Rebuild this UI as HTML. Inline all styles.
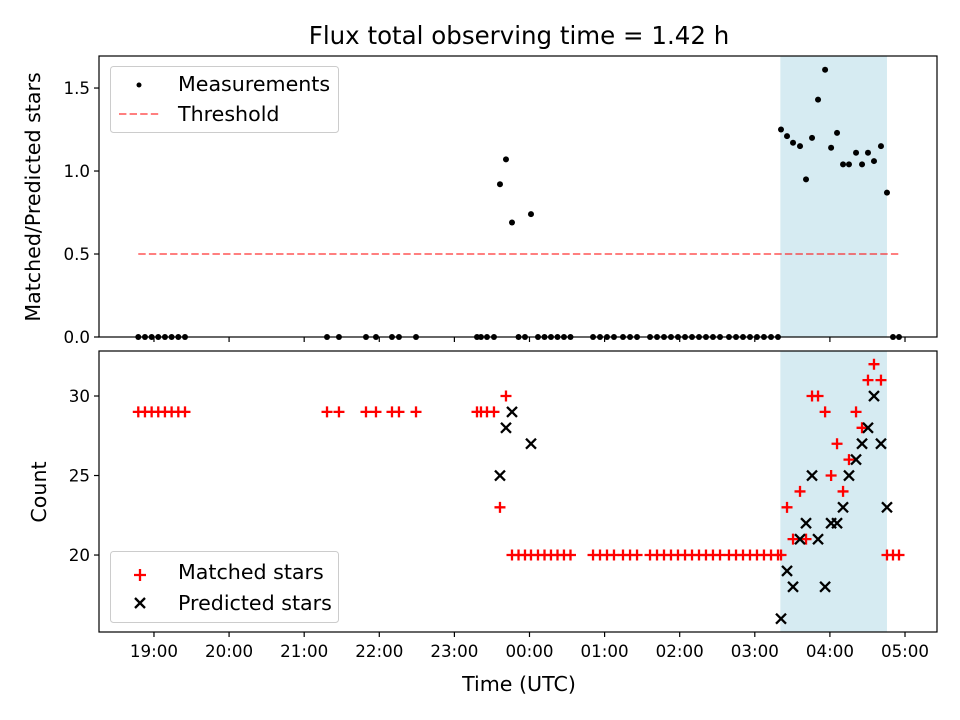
<!DOCTYPE html>
<html><head><meta charset="utf-8"><style>
body{margin:0;background:#fff}
svg{display:block;font-family:"DejaVu Sans","Liberation Sans",sans-serif}
</style></head><body>
<svg id="chart" width="960" height="720" viewBox="0 0 960 720"></svg>
<script>
// observation times (hours, >24 means after midnight)
const times = [18.791,18.880,18.969,19.057,19.146,19.235,19.324,19.413,
21.304,21.463,21.823,21.956,22.169,22.262,22.489,
23.301,23.354,23.434,23.527,
23.607,23.687,23.767,23.854,23.940,24.020,24.113,24.200,24.286,24.373,24.459,24.546,
24.846,24.939,25.032,25.125,25.245,25.339,25.432,
25.605,25.698,25.791,25.884,25.977,26.071,26.164,26.257,26.350,26.443,26.537,
26.656,26.750,26.843,26.936,27.029,27.122,27.216,27.309,
27.349,27.429,27.509,27.602,27.682,27.762,27.842,27.936,28.016,28.095,28.175,28.254,28.348,28.428,28.507,28.587,28.680,28.760,
28.840,28.920];
const matched = [29,29,29,29,29,29,29,29,
29,29,29,29,29,29,29,
29,29,29,29,
23,30,20,20,20,20,20,20,20,20,20,20,
20,20,20,20,20,20,20,
20,20,20,20,20,20,20,20,20,20,20,
20,20,20,20,20,20,20,20,
20,23,21,24,21,30,30,29,25,27,24,26,29,28,31,32,31,20,
20,20];
const predicted = [null,null,null,null,null,null,null,null,
null,null,null,null,null,null,null,
null,null,null,null,
25,28,29,null,null,27,null,null,null,null,null,null,
null,null,null,null,null,null,null,
null,null,null,null,null,null,null,null,null,null,null,
null,null,null,null,null,null,null,null,
16,19,18,21,22,25,21,18,22,22,23,25,26,27,28,30,27,23,
null,null];
const ratio = [0,0,0,0,0,0,0,0,
0,0,0,0,0,0,0,
0,0,0,0,
0.92,1.07,0.69,0,0,0.74,0,0,0,0,0,0,
0,0,0,0,0,0,0,
0,0,0,0,0,0,0,0,0,0,0,
0,0,0,0,0,0,0,0,
1.25,1.21,1.17,1.15,0.95,1.20,1.43,1.61,1.14,1.23,1.04,1.04,1.11,1.04,1.11,1.06,1.15,0.87,
0,0];
const threshold = 0.5;
const span = [27.34, 28.76];
const xTicks = [19,20,21,22,23,24,25,26,27,28,29];
const xTickLabels = ["19:00","20:00","21:00","22:00","23:00","00:00","01:00","02:00","03:00","04:00","05:00"];
const topTicks = [0,0.5,1.0,1.5];
const topTickLabels = ["0.0","0.5","1.0","1.5"];
const botTicks = [20,25,30];
const botTickLabels = ["20","25","30"];

const svg = document.getElementById('chart');
const NS = 'http://www.w3.org/2000/svg';
function mk(tag, attrs, parent, text){
  const e = document.createElementNS(NS, tag);
  for (const k in attrs) e.setAttribute(k, attrs[k]);
  if (text !== undefined) e.textContent = text;
  (parent||svg).appendChild(e);
  return e;
}
const L=99, R=937;
const xMin=18.268, xMax=29.426;
const X = t => L + (t-xMin)/(xMax-xMin)*(R-L);
const T0=56, T1=337, tMin=0, tMax=1.693;
const YT = v => T1 - (v-tMin)/(tMax-tMin)*(T1-T0);
const B0=351, B1=632, bMin=15.16, bMax=32.83;
const YB = v => B1 - (v-bMin)/(bMax-bMin)*(B1-B0);

// title
let e = mk('text',{x:519,y:44,'text-anchor':'middle','font-size':'24.5'},svg,'Flux total observing time = 1.42 h');
 

// spans
e = mk('rect',{x:X(span[0]),y:T0,width:X(span[1])-X(span[0]),height:T1-T0,fill:'#add8e6','fill-opacity':0.5});
 
e = mk('rect',{x:X(span[0]),y:B0,width:X(span[1])-X(span[0]),height:B1-B0,fill:'#add8e6','fill-opacity':0.5});
 

// threshold
e = mk('line',{x1:X(times[0]),x2:X(times[times.length-1]),y1:YT(threshold),y2:YT(threshold),stroke:'#ff0000','stroke-opacity':0.5,'stroke-width':2,'stroke-dasharray':'7.4,3.2'});
 

// measurements
const gM = mk('g',{});
 
times.forEach((t,i)=>{
  const c = mk('circle',{cx:X(t),cy:YT(ratio[i]),r:3,fill:'#000'},gM);
  
  
});

// matched
const gP = mk('g',{stroke:'#ff0000','stroke-width':2.3});
 
times.forEach((t,i)=>{
  if (matched[i]===null) return;
  const x=X(t), y=YB(matched[i]), s=5.5;
  const p = mk('path',{d:`M${x-s},${y}H${x+s}M${x},${y-s}V${y+s}`},gP);
  
  
});
// predicted
const gX = mk('g',{stroke:'#000','stroke-width':2.3});
 
times.forEach((t,i)=>{
  if (predicted[i]===null) return;
  const x=X(t), y=YB(predicted[i]), s=5;
  const p = mk('path',{d:`M${x-s},${y-s}L${x+s},${y+s}M${x-s},${y+s}L${x+s},${y-s}`},gX);
  
  
});

// frames
e = mk('rect',{x:L,y:T0,width:R-L,height:T1-T0,fill:'none',stroke:'#000','stroke-width':1.2});
 
e = mk('rect',{x:L,y:B0,width:R-L,height:B1-B0,fill:'none',stroke:'#000','stroke-width':1.2});
 

// x ticks
xTicks.forEach((t,i)=>{
  const x=X(t);
  mk('line',{x1:x,x2:x,y1:T1,y2:T1+5,stroke:'#000','stroke-width':1.2});
  mk('line',{x1:x,x2:x,y1:B1,y2:B1+5,stroke:'#000','stroke-width':1.2});
  const tx = mk('text',{x:x,y:B1+25,'text-anchor':'middle','font-size':'16.7'},svg,xTickLabels[i]);
  
  
});
topTicks.forEach((v,i)=>{
  const y=YT(v);
  mk('line',{x1:L-5,x2:L,y1:y,y2:y,stroke:'#000','stroke-width':1.2});
  const tx = mk('text',{x:L-9,y:y+6,'text-anchor':'end','font-size':'16.7'},svg,topTickLabels[i]);
  
  
});
botTicks.forEach((v,i)=>{
  const y=YB(v);
  mk('line',{x1:L-5,x2:L,y1:y,y2:y,stroke:'#000','stroke-width':1.2});
  const tx = mk('text',{x:L-9,y:y+6,'text-anchor':'end','font-size':'16.7'},svg,botTickLabels[i]);
  
  
});

// axis labels
e = mk('text',{x:519,y:691,'text-anchor':'middle','font-size':'20.6'},svg,'Time (UTC)');
 
e = mk('text',{x:0,y:0,'text-anchor':'middle','font-size':'20.6',transform:'translate(40,197) rotate(-90)'},svg,'Matched/Predicted stars');
 
e = mk('text',{x:0,y:0,'text-anchor':'middle','font-size':'20.6',transform:'translate(46,492) rotate(-90)'},svg,'Count');
 

// legends
const lg1 = mk('g',{});
 
mk('rect',{x:110.5,y:66.5,width:228,height:66,rx:3,fill:'#fff','fill-opacity':0.8,stroke:'#ccc','stroke-width':1},lg1);
mk('circle',{cx:139,cy:85,r:2.5,fill:'#000'},lg1);
mk('text',{x:178,y:91,'font-size':'20.6'},lg1,'Measurements');
mk('line',{x1:119,x2:160,y1:114,y2:114,stroke:'#ff0000','stroke-opacity':0.5,'stroke-width':2,'stroke-dasharray':'7.4,3.2'},lg1);
mk('text',{x:178,y:121,'font-size':'20.6'},lg1,'Threshold');

const lg2 = mk('g',{});
 
mk('rect',{x:110.5,y:551.5,width:228,height:71,rx:3,fill:'#fff','fill-opacity':0.8,stroke:'#ccc','stroke-width':1},lg2);
mk('path',{d:'M134,575H146M140,569V581',stroke:'#ff0000','stroke-width':2.3},lg2);
mk('text',{x:178,y:579,'font-size':'20.6'},lg2,'Matched stars');
mk('path',{d:'M135,598L145,608M135,608L145,598',stroke:'#000','stroke-width':2.3},lg2);
mk('text',{x:178,y:610,'font-size':'20.6'},lg2,'Predicted stars');
</script>
</body></html>
